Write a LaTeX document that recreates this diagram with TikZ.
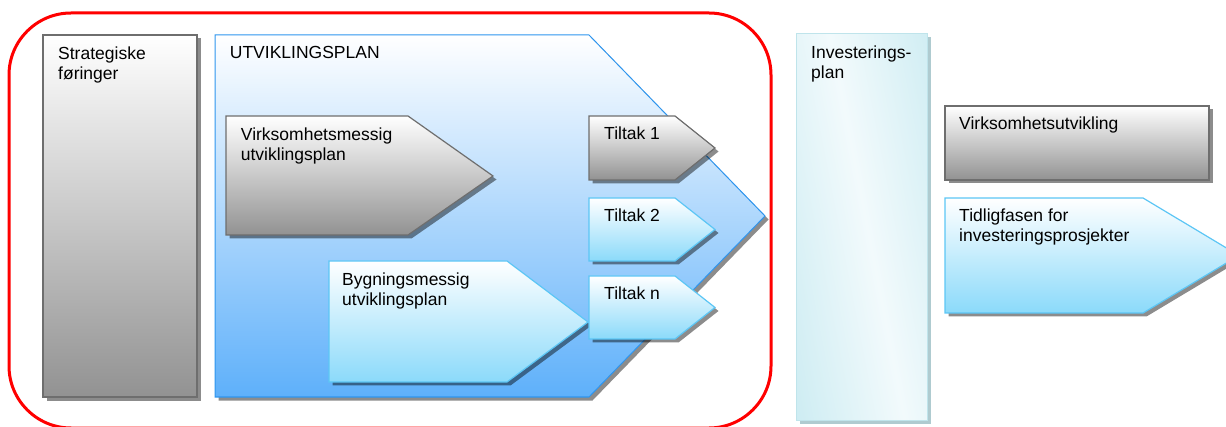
\documentclass[tikz,border=0pt]{standalone}
\usepackage{fontspec}
\setmainfont{Liberation Sans}
\usetikzlibrary{shadows}
\definecolor{grayB}{HTML}{929292}
\definecolor{grayD}{HTML}{6E6E6E}
\definecolor{blueB}{HTML}{5EB0FA}
\definecolor{blueD}{HTML}{2E95EE}
\definecolor{lblueB}{HTML}{8BDAFA}
\definecolor{lblueD}{HTML}{5CC6F5}
\definecolor{cyanA}{HTML}{BDE6EE}
\definecolor{cyanB}{HTML}{F2FAFC}
\definecolor{cyanD}{HTML}{BFE4EB}
\tikzset{
  shd/.style={drop shadow={shadow xshift=3.5pt,shadow yshift=-3.5pt,fill=black,opacity=0.45}},
  grayshape/.style={draw=grayD,line width=1.2pt,top color=white,bottom color=grayB,shd},
  blueshape/.style={draw=blueD,line width=1.2pt,top color=white,bottom color=blueB,shd},
  lblueshape/.style={draw=lblueD,line width=1.2pt,top color=white,bottom color=lblueB,shd},
  lbl/.style={anchor=north west,inner sep=0pt,align=left,font=\fontsize{17.5}{20}\selectfont}
}
\begin{document}
\begin{tikzpicture}[x=1pt,y=-1pt]
\useasboundingbox (0,0) rectangle (1226,427);
\clip (0,0) rectangle (1226,427);
% red frame
\draw[red,line width=3pt,rounded corners=62pt] (9,13) rectangle (771,428);
% Strategiske foringer
\path[grayshape] (43,35) rectangle (197,397);
\node[lbl] (strat) at (58,46.4) {Strategiske\\føringer};
% Utviklingsplan
\path[blueshape,line width=1pt] (215,35) -- (589,35) -- (765,216) -- (589,397) -- (215,397) -- cycle;
\node[lbl] (utv) at (229.7,46.4) {UTVIKLINGSPLAN};
% Virksomhetsmessig
\path[grayshape] (226,116) -- (408,116) -- (493,176) -- (408,235) -- (226,235) -- cycle;
\node[lbl] (virk) at (240.7,127.4) {Virksomhetsmessig\\utviklingsplan};
% Bygningsmessig
\path[lblueshape] (329,261) -- (507,261) -- (588,322) -- (507,382) -- (329,382) -- cycle;
\node[lbl] (byg) at (342,272.4) {Bygningsmessig\\utviklingsplan};
% Tiltak
\path[grayshape] (589,116) -- (675,116) -- (715,148) -- (675,180) -- (589,180) -- cycle;
\node[lbl] (t1) at (604,126.4) {Tiltak 1};
\path[lblueshape] (589,198) -- (675,198) -- (715,229.5) -- (675,261) -- (589,261) -- cycle;
\node[lbl] (t2) at (604,208.4) {Tiltak 2};
\path[lblueshape] (589,276) -- (675,276) -- (715,307.5) -- (675,339) -- (589,339) -- cycle;
\node[lbl] (tn) at (604,286.4) {Tiltak n};
% Investeringsplan
\fill[cyanD!75!gray] (799.5,37.5) rectangle (930.5,423.5);
\begin{scope}
  \clip (796,34) rectangle (927,420);
  \begin{scope}[transform canvas={rotate around={11:(867,227)}}]
    \shade[left color=cyanA,right color=cyanA,middle color=cyanB] (712,-60) rectangle (1022,514);
  \end{scope}
\end{scope}
\draw[cyanD,line width=1pt] (796,34) rectangle (927,420);
\node[lbl] (inv) at (811,45.4) {Investerings-\\plan};
% Virksomhetsutvikling
\path[grayshape] (945,106) rectangle (1209,180);
\node[lbl] (vu) at (959,116.4) {Virksomhetsutvikling};
% Tidligfasen
\path[lblueshape] (945,198) -- (1143,198) -- (1239,255.5) -- (1143,313) -- (945,313) -- cycle;
\node[lbl] (tid) at (959,208.4) {Tidligfasen for\\investeringsprosjekter};
\end{tikzpicture}
\end{document}
